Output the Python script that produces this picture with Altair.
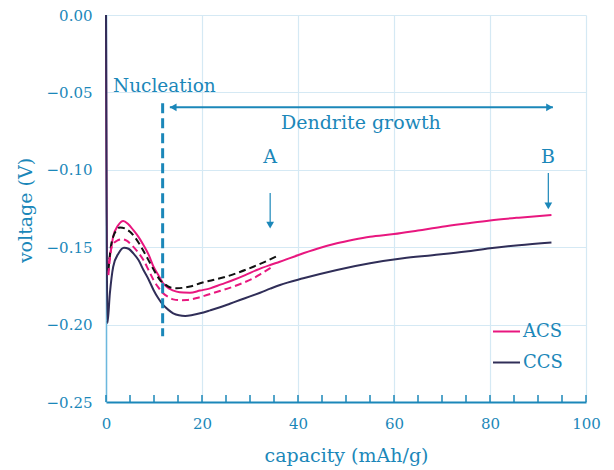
import altair as alt
import pandas as pd

FONT = "DejaVu Serif"
BLUE = "#1b87b9"
PINK = "#e8177f"
NAVY = "#302e58"
GRID = "#d5e9f4"

# ---- data -------------------------------------------------------------
acs_x = [0, 0.2, 0.7, 1.5, 2.5, 3.6, 4.6, 5.7, 6.8, 7.8, 8.9, 9.9, 10.9, 11.9,
         13.3, 14.7, 16.1, 17.5, 19.6, 21.7, 24.0, 26.5, 29.0, 31.4, 34.2, 36.2,
         40.1, 44.0, 48.1, 51.5, 55.0, 60.0, 65.0, 70.0, 75.0, 80.0, 86.0, 92.8]
acs_y = [0.0, -0.165, -0.158, -0.143, -0.136, -0.133, -0.135, -0.139, -0.1435,
         -0.1486, -0.155, -0.1626, -0.168, -0.1733, -0.177, -0.1787, -0.1793,
         -0.1794, -0.178, -0.1766, -0.174, -0.1712, -0.168, -0.1647, -0.1615,
         -0.1594, -0.155, -0.151, -0.1475, -0.1452, -0.1432, -0.1415, -0.1392,
         -0.1368, -0.1347, -0.1327, -0.1309, -0.1292]

ccs_x = [0, 0.3, 0.8, 1.5, 2.6, 3.75, 4.7, 5.7, 6.8, 7.8, 8.9, 9.9, 10.9, 11.9,
         13.0, 14.0, 15.2, 16.5, 18.0, 19.6, 21.7, 23.75, 25.8, 27.9, 30.0, 32.1,
         34.2, 36.25, 41.1, 48.1, 55.0, 61.9, 68.0, 75.0, 80.0, 86.0, 92.8]
ccs_y = [0.0, -0.199, -0.18, -0.1626, -0.154, -0.1503, -0.151, -0.154, -0.1585,
         -0.1647, -0.171, -0.1776, -0.183, -0.1873, -0.1905, -0.1927, -0.194,
         -0.1944, -0.1938, -0.1927, -0.1908, -0.1888, -0.1865, -0.1841, -0.1818,
         -0.1794, -0.1768, -0.1744, -0.1701, -0.1647, -0.1604, -0.1572, -0.1552,
         -0.1528, -0.1507, -0.1487, -0.1469]

blackdash_x = [0.5, 1.0, 1.5, 2.2, 2.9, 4.0, 5.0, 6.0, 7.1, 8.1, 9.2, 10.2, 11.25,
               12.3, 13.3, 14.7, 16.1, 17.8, 19.6, 22.3, 25.1, 27.9, 30.7, 33.2, 35.4]
blackdash_y = [-0.165, -0.15, -0.1432, -0.139, -0.1372, -0.138, -0.14, -0.1435,
               -0.1486, -0.154, -0.1604, -0.166, -0.1712, -0.174, -0.1759, -0.1765,
               -0.1762, -0.1752, -0.1733, -0.1712, -0.169, -0.166, -0.1626, -0.1593,
               -0.1561]

pinkdash_x = [0.5, 1.2, 2.2, 3.3, 4.3, 5.35, 6.6, 7.8, 8.9, 9.9, 10.9, 11.9, 13.0,
              14.0, 15.4, 16.8, 18.9, 21.0, 23.7, 26.5, 28.6, 30.7, 32.5, 34.5]
pinkdash_y = [-0.168, -0.1497, -0.146, -0.1449, -0.1458, -0.1486, -0.153, -0.1583,
              -0.165, -0.1712, -0.176, -0.1798, -0.1822, -0.1837, -0.1842, -0.1841,
              -0.1828, -0.1809, -0.1783, -0.1755, -0.173, -0.1701, -0.1668, -0.163]

series_names = ["ACS", "CCS"]
series_colors = [PINK, NAVY]

x_ticks = list(range(0, 101, 5))
x_labels = [0, 20, 40, 60, 80, 100]
y_labels = [0.0, -0.05, -0.10, -0.15, -0.20, -0.25]

# annotations
nucleation_x = 11.8
nuc_line_y = [-0.057, -0.2075]
growth_x = [13.3, 93.1]
growth_y = -0.0596
left_labels = ["Nucleation"]
left_x = [1.45]
left_y = [-0.0495]
center_labels = ["Dendrite growth", "A", "B"]
center_x = [53.1, 34.2, 92.1]
center_y = [-0.0735, -0.0958, -0.0958]
down_arrow_x = [34.2, 92.15]
down_arrow_top = [-0.115, -0.102]
down_arrow_head = [-0.1358, -0.1233]

# ---- frames ------------------------------------------------------------
solid = pd.DataFrame({
    "capacity": acs_x + ccs_x,
    "voltage": acs_y + ccs_y,
    "series": ["ACS"] * len(acs_x) + ["CCS"] * len(ccs_x),
})
bdash = pd.DataFrame({"capacity": blackdash_x, "voltage": blackdash_y})
pdash = pd.DataFrame({"capacity": pinkdash_x, "voltage": pinkdash_y})
ticks = pd.DataFrame({"x": x_ticks, "y": [-0.25] * len(x_ticks), "y2": [-0.2455] * len(x_ticks)})
nuc = pd.DataFrame({"x": [nucleation_x], "y": [nuc_line_y[0]], "y2": [nuc_line_y[1]]})
growth = pd.DataFrame({"x": [growth_x[0]], "x2": [growth_x[1]], "y": [growth_y]})
heads_h = pd.DataFrame({"x": [growth_x[0] + 0.7, growth_x[1] - 0.7], "y": [growth_y, growth_y],
                        "shape": ["triangle-left", "triangle-right"]})
ltexts = pd.DataFrame({"label": left_labels, "x": left_x, "y": left_y})
ctexts = pd.DataFrame({"label": center_labels, "x": center_x, "y": center_y})
darrows = pd.DataFrame({"x": down_arrow_x, "y": down_arrow_top, "y2": down_arrow_head})

xs = alt.Scale(domain=[0, 100], nice=False, zero=False)
ys = alt.Scale(domain=[-0.25, 0], nice=False, zero=False)

base_x = alt.X("capacity:Q", scale=xs, title="capacity (mAh/g)",
               axis=alt.Axis(values=x_labels, grid=True, gridColor=GRID, gridWidth=1.2,
                             ticks=False, domainColor=BLUE, domainWidth=2,
                             labelFlush=False, labelOverlap=False,
                             labelFont=FONT, labelFontSize=15, labelColor=BLUE,
                             labelPadding=14, titleFont=FONT, titleFontSize=19,
                             titleFontWeight="normal", titleColor=BLUE,
                             titleX=240, titleY=53, titleBaseline="middle"))
base_y = alt.Y("voltage:Q", scale=ys, title="voltage (V)",
               axis=alt.Axis(values=y_labels, format=".2f", grid=True, gridColor=GRID,
                             gridWidth=1.2, ticks=False, domainColor="#6cb8dd",
                             labelFlush=False, labelOverlap=False,
                             domainWidth=1.5, labelFont=FONT, labelFontSize=15,
                             labelColor=BLUE, labelPadding=14, titleFont=FONT,
                             titleFontSize=19, titleFontWeight="normal",
                             titleColor=BLUE, titleX=-81, titleY=195,
                             titleBaseline="middle", titleAlign="center"))

solid_layer = alt.Chart(solid).mark_line(strokeWidth=2, interpolate="monotone").encode(
    x=base_x, y=base_y,
    color=alt.Color("series:N", scale=alt.Scale(domain=series_names, range=series_colors),
                    legend=alt.Legend(title=None, orient="none", legendX=386, legendY=302,
                                      symbolType="stroke", symbolSize=729,
                                      symbolStrokeWidth=2, labelFont=FONT,
                                      labelFontSize=18, labelColor=BLUE, labelOffset=2,
                                      rowPadding=7, padding=0)),
)

bdash_layer = alt.Chart(bdash).mark_line(strokeWidth=2, strokeDash=[7, 4], color="#111111",
                                         interpolate="monotone").encode(
    x="capacity:Q", y="voltage:Q")
pdash_layer = alt.Chart(pdash).mark_line(strokeWidth=2, strokeDash=[7, 4], color=PINK,
                                         interpolate="monotone").encode(
    x="capacity:Q", y="voltage:Q")

tick_layer = alt.Chart(ticks).mark_rule(color=BLUE, strokeWidth=1.5).encode(
    x="x:Q", y="y:Q", y2="y2:Q")

nuc_layer = alt.Chart(nuc).mark_rule(color=BLUE, strokeWidth=3, strokeDash=[10, 5]).encode(
    x="x:Q", y="y:Q", y2="y2:Q")
growth_layer = alt.Chart(growth).mark_rule(color=BLUE, strokeWidth=2).encode(
    x="x:Q", x2="x2:Q", y="y:Q")
heads_layer = alt.Chart(heads_h).mark_point(filled=True, size=60, color=BLUE, opacity=1).encode(
    x="x:Q", y="y:Q",
    shape=alt.Shape("shape:N", scale=None))
darrow_layer = alt.Chart(darrows).mark_rule(color=BLUE, strokeWidth=1.2).encode(
    x="x:Q", y="y:Q", y2="y2:Q")
dhead_layer = alt.Chart(darrows).mark_point(filled=True, size=60, color=BLUE, opacity=1,
                                            shape="triangle-down").encode(
    x="x:Q", y="y2:Q")
ltext_layer = alt.Chart(ltexts).mark_text(font=FONT, fontSize=18.5, color=BLUE,
                                          baseline="alphabetic", align="left").encode(
    x="x:Q", y="y:Q", text="label:N")
ctext_layer = alt.Chart(ctexts).mark_text(font=FONT, fontSize=19, color=BLUE,
                                          baseline="alphabetic", align="center").encode(
    x="x:Q", y="y:Q", text="label:N")

chart = alt.layer(
    solid_layer, bdash_layer, pdash_layer, tick_layer, nuc_layer, growth_layer,
    heads_layer, darrow_layer, dhead_layer, ltext_layer, ctext_layer,
).properties(
    width=480, height=387,
    autosize=alt.AutoSizeParams(type="none"),
    padding={"left": 106, "top": 15, "right": 28, "bottom": 68},
).configure_view(stroke=None)

chart.save("out.html", embed_options={"renderer": "svg", "actions": False})
